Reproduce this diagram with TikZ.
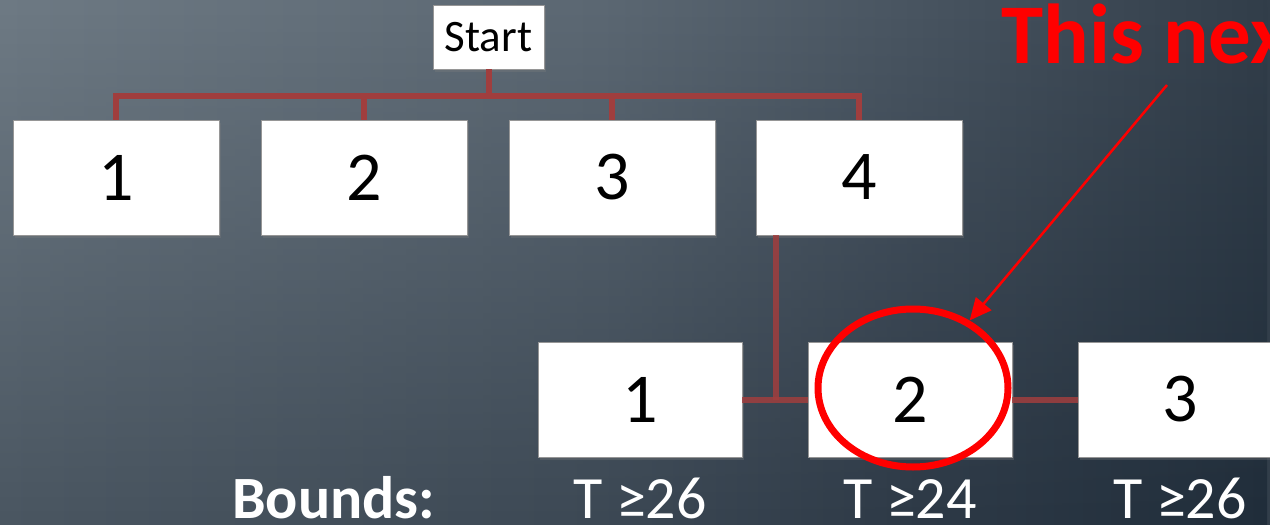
\documentclass[tikz,border=0pt]{standalone}
\usepackage{fontspec}
\setmainfont{Carlito}
\usetikzlibrary{shapes.geometric,arrows.meta,shadows,fadings}

% background tones (top row and bottom row, left to right)
\definecolor{bgtA}{RGB}{110,122,132}
\definecolor{bgtB}{RGB}{92,104,115}
\definecolor{bgtC}{RGB}{74,86,98}
\definecolor{bgtD}{RGB}{50,62,74}
\definecolor{bgbA}{RGB}{74,86,97}
\definecolor{bgbB}{RGB}{60,72,84}
\definecolor{bgbC}{RGB}{46,58,71}
\definecolor{bgbD}{RGB}{32,45,58}
\definecolor{linkred}{RGB}{160,62,62}
\definecolor{boxline}{RGB}{150,150,150}

\pgfdeclarehorizontalshading{bgtop}{100bp}{color(0bp)=(bgtA); color(25bp)=(bgtA); color(48.6bp)=(bgtB); color(60.4bp)=(bgtC); color(75bp)=(bgtD); color(100bp)=(bgtD)}
\pgfdeclarehorizontalshading{bgbot}{100bp}{color(0bp)=(bgbA); color(25bp)=(bgbA); color(48.6bp)=(bgbB); color(60.4bp)=(bgbC); color(75bp)=(bgbD); color(100bp)=(bgbD)}
\tikzfading[name=fadedown, top color=transparent!100, middle color=transparent!75, bottom color=transparent!0]

\tikzset{
  box/.style={draw=boxline, line width=0.8pt, fill=white, inner sep=0pt,
    minimum width=206pt, minimum height=115pt,
    font=\fontsize{70}{80}\selectfont,
    drop shadow={shadow xshift=2pt, shadow yshift=-3pt, opacity=0.3}},
  startbox/.style={box, minimum width=111pt, minimum height=64pt,
    font=\fontsize{45}{54}\selectfont},
  link/.style={draw=linkred, line width=6pt},
  sublink/.style={link, draw opacity=0.85},
  bound/.style={anchor=base, inner sep=0pt, text=white, font=\fontsize{60}{70}\selectfont},
}

\begin{document}
\begin{tikzpicture}[x=1pt,y=-1pt]
\useasboundingbox (0,0) rectangle (1270,525);
\clip (0,0) rectangle (1270,525);

% background
\shade[shading=bgtop] (0,0) rectangle (1270,525);
\shade[shading=bgbot, path fading=fadedown] (0,0) rectangle (1270,525);

% tree nodes
\node[startbox] (start) at (488.5,37) {Start};
\node[box] (t1) at (116,177.5) {1};
\node[box] (t2) at (364,177.5) {2};
\node[box] (t3) at (612,177.5) {3};
\node[box] (t4) at (859,177.5) {4};
\node[box, minimum width=204pt] (b1) at (640,399.5) {1};
\node[box, minimum width=204pt] (b2) at (910,399.5) {2};
\node[box, minimum width=204pt] (b3) at (1180,399.5) {3};

% first level connectors
\coordinate (bar) at (0,96);
\draw[link] (t1.north) -- (t1.north |- bar) -- (t4.north |- bar) -- (t4.north);
\draw[link] (t2.north) -- (t2.north |- bar);
\draw[link] (t3.north) -- (t3.north |- bar);
\draw[link] (start.south) -- (start.south |- bar);

% second level connectors
\coordinate (drop) at ([xshift=20pt]t4.south west);
\draw[sublink] (drop) -- (drop |- b1.east);
\draw[sublink] (b1.east) -- (b2.west);
\draw[sublink] (b2.east) -- (b3.west);

% highlight
\node[draw=red, line width=7pt, ellipse, minimum width=190pt, minimum height=158pt, inner sep=0pt] (mark) at (913,388) {};
\node[anchor=base west, text=red, font=\bfseries\fontsize{85}{100}\selectfont] (note) at (998,63) {This next};
\coordinate (tail) at (1167,85);
\draw[red, line width=2.5pt, -{Triangle[length=22pt,width=20pt]}] (tail) -- (mark);

% bounds row
\node[anchor=base west, inner sep=0pt, text=white, font=\bfseries\fontsize{60}{70}\selectfont] (bounds) at (232,518) {Bounds:};
\node[bound] (lb1) at (b1.center |- bounds.base) {T ≥26};
\node[bound] (lb2) at (b2.center |- bounds.base) {T ≥24};
\node[bound] (lb3) at (b3.center |- bounds.base) {T ≥26};
\end{tikzpicture}
\end{document}
